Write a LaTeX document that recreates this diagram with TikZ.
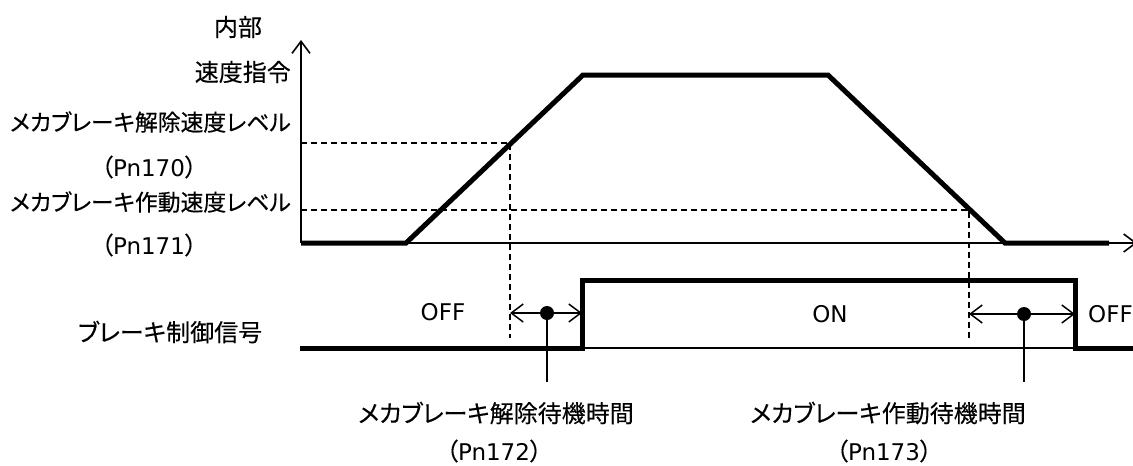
\documentclass[tikz,border=0pt]{standalone}
\usepackage{fontspec}
\setmainfont{Noto Sans CJK JP}[FakeBold=0.3,RawFeature=+palt]
\newfontfamily\latinfont{DejaVu Sans}
\usetikzlibrary{arrows.meta}

\newcommand{\lat}[1]{{\latinfont\fontsize{23}{27}\selectfont #1}}

\begin{document}
\begin{tikzpicture}[x=1pt,y=-1pt]
        \tikzset{>={Straight Barb[length=12pt,width=18pt]}}
        \tikzstyle{every node}=[font=\fontsize{24}{28}\selectfont,inner sep=0pt,text=black]
        \tikzstyle{levellabel}=[anchor=east,font=\fontsize{22.8}{26}\selectfont]
        \tikzstyle{signal}=[line width=5pt]
        \tikzstyle{axis}=[line width=1.6pt]
        \tikzstyle{level}=[line width=1.5pt,dash pattern=on 6pt off 4pt]
        \tikzstyle{lead}=[line width=1.5pt]
        \useasboundingbox (0,0) rectangle (1133,466);

        % speed axis
        \coordinate (o) at (301,243);
        \coordinate (ytop) at (301,40);
        \coordinate (xend) at (1137,243);
        \draw [axis,->] (o) to (ytop);
        \draw [axis,->] (o) to (xend);

        % speed command
        \coordinate (s0) at (406,243);
        \coordinate (s1) at (583,75);
        \coordinate (s2) at (828,75);
        \coordinate (s3) at (1005,243);
        \coordinate (s4) at (1109,243);
        \draw [signal] (o) -- (s0) -- (s1) -- (s2) -- (s3) -- (s4);

        % levels
        \coordinate (rl) at (301,143);
        \coordinate (rc) at (510,143);
        \coordinate (rb) at (510,338);
        \coordinate (al) at (301,210);
        \coordinate (ac) at (969,210);
        \coordinate (ab) at (969,340);
        \draw [level] (rl) -- (rc) -- (rb);
        \draw [level] (al) -- (ac) -- (ab);

        % brake signal
        \coordinate (b0) at (300,348);
        \coordinate (b1) at (582,348);
        \coordinate (b2) at (582,280);
        \coordinate (b3) at (1075,280);
        \coordinate (b4) at (1075,348);
        \coordinate (b5) at (1133,348);
        \draw [axis] (b1) -- (b4);
        \draw [signal] (b0) -- (b1) -- (b2) -- (b3) -- (b4) -- (b5);

        % wait times
        \coordinate (r1) at (510,313);
        \coordinate (r2) at (582,313);
        \coordinate (a1) at (969,314);
        \coordinate (a2) at (1075,314);
        \node [circle,fill=black,minimum size=14pt] (rdot) at (547,313) {};
        \node [circle,fill=black,minimum size=14pt] (adot) at (1024,314) {};
        \coordinate (rfoot) at (547,382);
        \coordinate (afoot) at (1024,382);
        \draw [lead,<->] (r1) to (r2);
        \draw [lead,<->] (a1) to (a2);
        \draw [lead] (rdot.center) to (rfoot);
        \draw [lead] (adot.center) to (afoot);

        % labels
        \node (naibu) at (238,27) {内部};
        \node [anchor=east] (shirei) at (291,72) {速度指令};
        \node [levellabel] (rlevel) at (291,122) {メカブレーキ解除速度レベル};
        \node (pn170) at (149,167) {（\lat{Pn170}）};
        \node [levellabel] (alevel) at (291,202) {メカブレーキ作動速度レベル};
        \node (pn171) at (149,245) {（\lat{Pn171}）};
        \node (brake) at (170,332) {ブレーキ制御信号};
        \node (off1) at (443,312) {\lat{OFF}};
        \node (on) at (830,314) {\lat{ON}};
        \node [anchor=west] (off2) at (1088,314) {\lat{OFF}};
        \node (rwait) at (496,413) {メカブレーキ解除待機時間};
        \node (pn172) at (494,451) {（\lat{Pn172}）};
        \node (await) at (888,413) {メカブレーキ作動待機時間};
        \node (pn173) at (884,451) {（\lat{Pn173}）};
    \end{tikzpicture}
\end{document}
